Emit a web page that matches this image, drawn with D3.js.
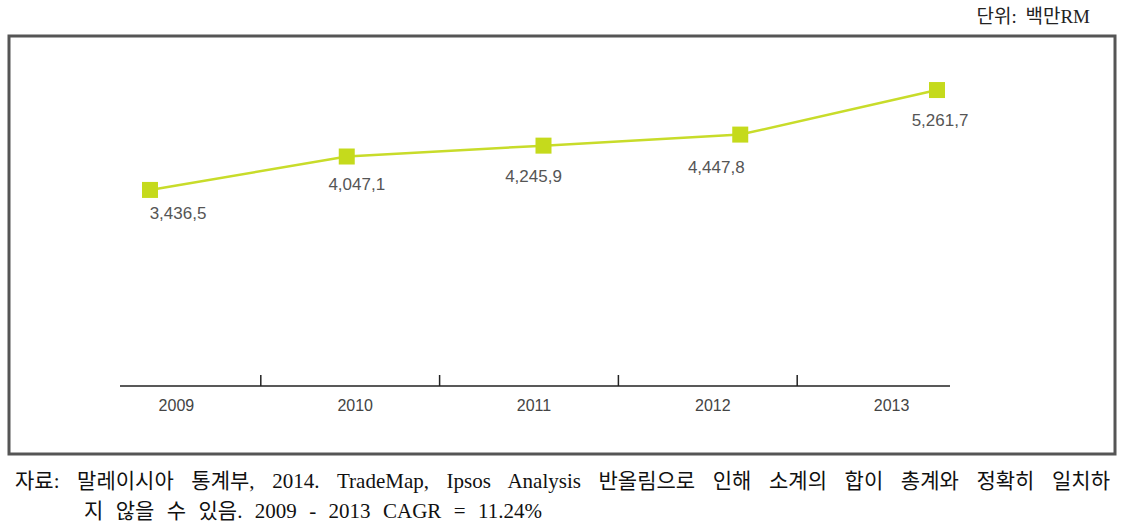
<!DOCTYPE html>
<html>
<head>
<meta charset="utf-8">
<script src="https://cdn.jsdelivr.net/npm/d3@7"></script>
<style>
  body { margin: 0; background: #fff; }
</style>
</head>
<body>
<script>
// chart data
var years = ["2009", "2010", "2011", "2012", "2013"];
var values = [3436.5, 4047.1, 4245.9, 4447.8, 5261.7];
var valueLabels = ["3,436,5", "4,047,1", "4,245,9", "4,447,8", "5,261,7"];

var width = 1124, height = 524;

var svg = d3.select("body").append("svg")
    .attr("width", width)
    .attr("height", height);

//unit text top right
svg.append("text")
    .attr("x", 1090).attr("y", 23)
    .attr("text-anchor", "end")
    .style("font-family", "'Liberation Serif', 'Noto Sans CJK KR'")
    .style("font-size", "19px")
    .style("word-spacing", "4px")
    .attr("fill", "#222")
    .text("단위: 백만RM");

//frame
svg.append("rect")
    .attr("x", 9).attr("y", 36)
    .attr("width", 1106).attr("height", 418)
    .attr("fill", "none")
    .attr("stroke", "#555")
    .attr("stroke-width", 3);

//category axis (bands)
var xBand = d3.scaleBand().domain(years).range([82, 976]);

var axisY = 386;
svg.append("line")
    .attr("x1", 120).attr("x2", 950)
    .attr("y1", axisY).attr("y2", axisY)
    .attr("stroke", "#222").attr("stroke-width", 1.5);

svg.selectAll(".tick")
    .data(years.slice(1))
    .enter().append("line")
    .attr("class", "tick")
    .attr("x1", function(d){ return xBand(d); })
    .attr("x2", function(d){ return xBand(d); })
    .attr("y1", axisY - 11).attr("y2", axisY)
    .attr("stroke", "#222").attr("stroke-width", 1.5);

svg.selectAll(".year")
    .data(years)
    .enter().append("text")
    .attr("class", "year")
    .attr("x", function(d){ return xBand(d) + xBand.bandwidth() / 2 + 5; })
    .attr("y", 411)
    .attr("text-anchor", "middle")
    .style("font-family", "'Liberation Sans', Arial, sans-serif")
    .style("font-size", "16px")
    .attr("fill", "#444")
    .text(function(d){ return d; });

//point positions
var x = d3.scalePoint().domain(years).range([150, 937]);
var y = d3.scaleLinear().domain([0, 5500]).range([378, 77]);

var line = d3.line()
    .x(function(d, i){ return x(years[i]); })
    .y(function(d){ return y(d); });

svg.append("path")
    .datum(values)
    .attr("d", line)
    .attr("fill", "none")
    .attr("stroke", "#c8dc2a")
    .attr("stroke-width", 2.5);

svg.selectAll(".marker")
    .data(values)
    .enter().append("rect")
    .attr("class", "marker")
    .attr("x", function(d, i){ return x(years[i]) - 8; })
    .attr("y", function(d){ return y(d) - 8; })
    .attr("width", 16).attr("height", 16)
    .attr("fill", "#c5da1c");

//value labels
var dx = [28, 10, -10, -24, 3];
var dy = [29, 33, 36, 38, 36];
svg.selectAll(".val")
    .data(values)
    .enter().append("text")
    .attr("class", "val")
    .attr("x", function(d, i){ return x(years[i]) + dx[i]; })
    .attr("y", function(d, i){ return y(d) + dy[i]; })
    .attr("text-anchor", "middle")
    .style("font-family", "'Liberation Sans', Arial, sans-serif")
    .style("font-size", "17px")
    .attr("fill", "#555")
    .text(function(d, i){ return valueLabels[i]; });

//source footnote, spaces stretched like the justified original
var noteFont = "'Liberation Serif', 'Noto Sans CJK KR'";
function note(txt, x0, y0, targetWidth){
    var t = svg.append("text")
        .attr("x", x0).attr("y", y0)
        .style("font-family", noteFont)
        .style("font-size", "21px")
        .attr("fill", "#111")
        .text(txt);
    var w = t.node().getComputedTextLength();
    var spaces = txt.split(" ").length - 1;
    t.style("word-spacing", ((targetWidth - w) / spaces) + "px");
}
note("자료: 말레이시아 통계부, 2014. TradeMap, Ipsos Analysis 반올림으로 인해 소계의 합이 총계와 정확히 일치하", 15, 488, 1095);
note("지 않을 수 있음. 2009 - 2013 CAGR = 11.24%", 84, 518, 458);
</script>
</body>
</html>
